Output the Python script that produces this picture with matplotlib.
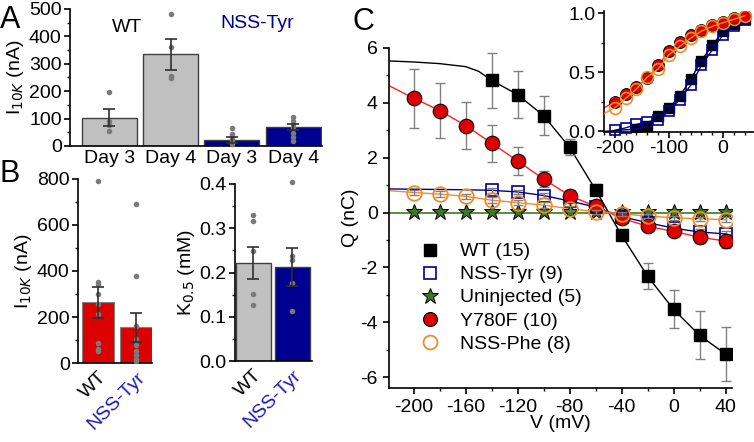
import matplotlib
matplotlib.use("Agg")
import matplotlib.pyplot as plt
from matplotlib.lines import Line2D
from matplotlib.ticker import MultipleLocator
import numpy as np

plt.rcParams['font.family'] = ['Liberation Sans', 'DejaVu Sans']
plt.rcParams['axes.unicode_minus'] = False
plt.rcParams['axes.linewidth'] = 1.2
plt.rcParams['xtick.major.width'] = 1.2
plt.rcParams['ytick.major.width'] = 1.2
plt.rcParams['xtick.minor.width'] = 1.0
plt.rcParams['ytick.minor.width'] = 1.0

FS = 14

# ---- panel A : I10K per day
a_labels = ["Day 3", "Day 4", "Day 3", "Day 4"]
a_means = [104, 335, 22, 68]
a_errs = [32, 56, 10, 11]
a_points = [[196, 90, 75, 55],
            [480, 362, 255, 247],
            [67, 43, 34, 24, 16, 7],
            [107, 92, 80, 68, 49, 32, 18]]

# ---- panel B left : I10K
b_labels = ["WT", "NSS-Tyr"]
b_means = [264, 155]
b_errs = [68, 62]
b_points = [[793, 352, 342, 300, 257, 214, 87, 61, 52],
            [691, 380, 162, 104, 80, 54, 36, 19, 10]]

# ---- panel B right : K0.5
k_means = [0.222, 0.213]
k_errs = [0.036, 0.043]
k_points = [[0.33, 0.317, 0.249, 0.152, 0.127],
            [0.405, 0.238, 0.228, 0.177, 0.114]]

# ---- panel C : Q-V
V_all = [-200, -180, -160, -140, -120, -100, -80, -60, -40, -20, 0, 20, 40]
V_wt = [-140, -120, -100, -80, -60, -40, -20, 0, 20, 40]
V_tyr = [-140, -120, -100, -80, -60, -40, -20, 0, 20, 40]

q_wt = [4.82, 4.3, 3.53, 2.38, 0.83, -0.83, -2.32, -3.53, -4.48, -5.16]
e_wt = [1.0, 0.87, 0.72, 0.3, 0.2, 0.1, 0.47, 0.69, 0.88, 1.0]
q_tyr = [0.81, 0.75, 0.62, 0.42, 0.2, -0.15, -0.37, -0.57, -0.71, -0.78]
e_tyr = [0.08, 0.08, 0.08, 0.08, 0.06, 0.06, 0.08, 0.08, 0.1, 0.1]
q_uninj = [0.03] * 13
q_y780 = [4.17, 3.72, 3.17, 2.53, 1.88, 1.22, 0.62, 0.22, -0.21, -0.5, -0.69, -0.9, -1.04]
e_y780 = [1.08, 1.0, 0.85, 0.68, 0.52, 0.3, 0.2, 0.12, 0.1, 0.12, 0.14, 0.2, 0.25]
q_phe = [0.73, 0.67, 0.59, 0.45, 0.36, 0.27, 0.14, 0.03, -0.05, -0.13, -0.19, -0.23, -0.26]
e_phe = [0.1, 0.1, 0.1, 0.1, 0.1, 0.1, 0.1, 0.08, 0.08, 0.08, 0.08, 0.08, 0.08]

# fit lines
fit_wt_v = [-220, -200, -180, -160, -150] + V_wt
fit_wt_q = [5.53, 5.49, 5.43, 5.32, 5.15] + q_wt
fit_y780_v = [-220] + V_all
fit_y780_q = [4.65] + q_y780
fit_tyr_v = [-220, -200, -180, -160] + V_tyr
fit_tyr_q = [0.86, 0.85, 0.84, 0.83] + q_tyr
fit_phe_v = [-220] + V_all
fit_phe_q = [0.8] + q_phe

# inset normalised
V_wt_n = [-160, -140, -120, -100, -80, -60, -40, -20, 0, 20, 40]
n_wt = [0.02, 0.05, 0.13, 0.2, 0.3, 0.44, 0.6, 0.73, 0.85, 0.91, 0.95]
n_tyr = [0.01, 0.03, 0.06, 0.08, 0.1, 0.17, 0.27, 0.39, 0.56, 0.69, 0.82, 0.89, 0.94]
n_y780 = [0.25, 0.32, 0.375, 0.45, 0.56, 0.68, 0.76, 0.82, 0.86, 0.9, 0.93, 0.96, 0.98]
n_phe = [0.2, 0.28, 0.36, 0.46, 0.53, 0.65, 0.72, 0.79, 0.85, 0.89, 0.92, 0.95, 0.98]

GRAY = '#c0c0c0'
NAVY = '#000090'
RED = '#dd0000'
BLUE_TXT = '#1c1cb4'
ORANGE = '#f08c28'
GREEN = '#3b7a23'
DOT = '#7a7a7a'

fig = plt.figure(figsize=(7.54, 4.42), dpi=100)


def style(ax):
    ax.spines['top'].set_visible(False)
    ax.spines['right'].set_visible(False)
    ax.tick_params(direction='out', labelsize=FS, length=4, pad=2)
    ax.tick_params(which='minor', direction='out', length=2.5)


def dots(ax, x, pts):
    ax.scatter([x] * len(pts), pts, s=16, color=DOT, zorder=4, linewidths=0, clip_on=False)


# ---------------- A
axA = fig.add_axes([70 / 754, 1 - 146 / 442, 252 / 754, 137 / 442])
style(axA)
colsA = [GRAY, GRAY, NAVY, NAVY]
xA = np.arange(4)
axA.bar(xA, a_means, width=0.9, color=colsA, edgecolor='#404040', linewidth=1)
for i in range(4):
    axA.errorbar(xA[i], a_means[i], yerr=a_errs[i], color='#303030', capsize=4,
                 lw=1.2, capthick=1.2, zorder=5)
    dots(axA, xA[i], a_points[i])
axA.set_xlim(-0.64, 3.47)
axA.set_ylim(0, 500)
axA.yaxis.set_major_locator(MultipleLocator(100))
axA.yaxis.set_minor_locator(MultipleLocator(50))
axA.set_xticks(xA)
axA.set_xticklabels(a_labels, fontsize=FS)
axA.tick_params(axis='x', length=0, pad=3)
axA.set_ylabel("I$_{10K}$ (nA)", fontsize=FS, labelpad=2)
fig.text(127 / 754, 1 - 27 / 442, "WT", fontsize=FS, ha='center', va='center')
fig.text(257 / 754, 1 - 24 / 442, "NSS-Tyr", fontsize=FS, ha='center', va='center', color=NAVY)

# ---------------- B left
axB = fig.add_axes([78 / 754, 1 - 363 / 442, 74 / 754, 184 / 442])
style(axB)
xB = np.arange(2)
axB.bar(xB, b_means, width=0.84, color=RED, edgecolor='#808080', linewidth=0.8)
for i in range(2):
    axB.errorbar(xB[i], b_means[i], yerr=b_errs[i], color='#303030', capsize=4,
                 lw=1.2, capthick=1.2, zorder=5)
    dots(axB, xB[i], b_points[i])
axB.set_xlim(-0.53, 1.42)
axB.set_ylim(0, 800)
axB.yaxis.set_major_locator(MultipleLocator(200))
axB.yaxis.set_minor_locator(MultipleLocator(100))
axB.set_xticks(xB)
axB.set_xticklabels(b_labels, rotation=45, ha='right', rotation_mode='anchor', fontsize=FS)
axB.get_xticklabels()[1].set_color(BLUE_TXT)
axB.tick_params(axis='x', length=0, pad=4)
axB.set_ylabel("I$_{10K}$ (nA)", fontsize=FS, labelpad=2)

# ---------------- B right
axK = fig.add_axes([235 / 754, 1 - 361 / 442, 77 / 754, 177 / 442])
style(axK)
axK.bar(xB, k_means, width=0.9, color=[GRAY, NAVY], edgecolor='#404040', linewidth=1)
for i in range(2):
    axK.errorbar(xB[i], k_means[i], yerr=k_errs[i], color='#303030', capsize=4,
                 lw=1.2, capthick=1.2, zorder=5)
    dots(axK, xB[i], k_points[i])
axK.set_xlim(-0.47, 1.5)
axK.set_ylim(0, 0.4)
axK.yaxis.set_major_locator(MultipleLocator(0.1))
axK.yaxis.set_minor_locator(MultipleLocator(0.05))
axK.set_xticks(xB)
axK.set_xticklabels(b_labels, rotation=45, ha='right', rotation_mode='anchor', fontsize=FS)
axK.get_xticklabels()[1].set_color(BLUE_TXT)
axK.tick_params(axis='x', length=0, pad=4)
axK.set_ylabel("K$_{0.5}$ (mM)", fontsize=FS, labelpad=2)

# ---------------- C main
axC = fig.add_axes([389 / 754, 1 - 388 / 442, 343 / 754, 340 / 442])
style(axC)
axC.tick_params(axis='both', pad=4)
ekw = dict(ecolor='#808080', elinewidth=1, capsize=3.5, capthick=1, linestyle='none')

axC.plot([-220, 40], [0, 0], color=GREEN, lw=1.2, zorder=2)
axC.plot(V_all, q_uninj, linestyle='none', marker='*', ms=12, mfc=GREEN, mec='black',
         mew=0.7, zorder=3)

axC.plot(fit_wt_v, fit_wt_q, color='black', lw=1, zorder=2)
axC.errorbar(V_wt, q_wt, yerr=e_wt, fmt='none', zorder=3, **ekw)
axC.plot(V_wt, q_wt, linestyle='none', marker='s', ms=9, color='black', zorder=4)

axC.plot(fit_tyr_v, fit_tyr_q, color=NAVY, lw=1, zorder=2)
axC.errorbar(V_tyr, q_tyr, yerr=e_tyr, fmt='none', zorder=3, **ekw)
axC.plot(V_tyr, q_tyr, linestyle='none', marker='s', ms=8.5, mfc='none', mec=NAVY,
         mew=1.2, zorder=4)

axC.plot(fit_y780_v, fit_y780_q, color='#ff2020', lw=1, zorder=2)
axC.errorbar(V_all, q_y780, yerr=e_y780, fmt='none', zorder=3, **ekw)
axC.plot(V_all, q_y780, linestyle='none', marker='o', ms=10.5, mfc=RED, mec='black',
         mew=0.8, zorder=5)

axC.plot(fit_phe_v, fit_phe_q, color=ORANGE, lw=1, zorder=2)
axC.errorbar(V_all, q_phe, yerr=e_phe, fmt='none', zorder=6, **ekw)
axC.plot(V_all, q_phe, linestyle='none', marker='o', ms=10.5, mfc='none', mec=ORANGE,
         mew=1.3, zorder=6)

axC.set_xlim(-219, 45)
axC.set_ylim(-6.4, 6)
axC.xaxis.set_major_locator(MultipleLocator(40))
axC.xaxis.set_minor_locator(MultipleLocator(20))
axC.yaxis.set_major_locator(MultipleLocator(2))
axC.yaxis.set_minor_locator(MultipleLocator(1))
axC.set_xlabel("V (mV)", fontsize=FS, labelpad=-1)
axC.set_ylabel("Q (nC)", fontsize=FS, labelpad=1)

handles = [
    Line2D([], [], linestyle='none', marker='s', ms=8, color='black'),
    Line2D([], [], linestyle='none', marker='s', ms=8, mfc='none', mec=NAVY, mew=1.2),
    Line2D([], [], linestyle='none', marker='*', ms=12, mfc=GREEN, mec='black', mew=0.7),
    Line2D([], [], linestyle='none', marker='o', ms=10, mfc=RED, mec='black', mew=0.8),
    Line2D([], [], linestyle='none', marker='o', ms=10, mfc='none', mec=ORANGE, mew=1.3),
]
names = ["WT (15)", "NSS-Tyr (9)", "Uninjected (5)", "Y780F (10)", "NSS-Phe (8)"]
axC.legend(handles, names, loc='upper left', bbox_to_anchor=(0.04, 0.45), frameon=False,
           fontsize=FS, handletextpad=0.55, labelspacing=0.28, borderaxespad=0)

# ---------------- C inset
axI = fig.add_axes([604 / 754, 1 - 132 / 442, 150 / 754, 121 / 442])
axI.patch.set_alpha(0)
style(axI)
axI.plot([-220] + V_wt_n, [0.0] + n_wt, color='black', lw=1, zorder=2)
axI.plot(V_wt_n, n_wt, linestyle='none', marker='s', ms=7, color='black', zorder=3)
axI.plot(V_all, n_tyr, color=NAVY, lw=1, marker='s', ms=7, mfc='none', mec=NAVY,
         mew=1.2, zorder=4, clip_on=False)
axI.plot([-220] + V_all, [0.2] + n_y780, color='#ff2020', lw=1, zorder=2)
axI.plot(V_all, n_y780, linestyle='none', marker='o', ms=8.5, mfc=RED, mec='black',
         mew=0.7, zorder=5)
axI.plot([-220] + V_all, [0.15] + n_phe, color=ORANGE, lw=1, marker='o', ms=8.5,
         mfc='none', mec=ORANGE, mew=1.2, zorder=6, markevery=list(range(1, 14)))
axI.set_xlim(-220, 57)
axI.set_ylim(-0.005, 1.02)
axI.xaxis.set_major_locator(MultipleLocator(100))
axI.xaxis.set_minor_locator(MultipleLocator(20))
axI.yaxis.set_major_locator(MultipleLocator(0.5))
axI.yaxis.set_minor_locator(MultipleLocator(0.25))

# panel letters
fig.text(0 / 754, 1 - 28 / 442, "A", fontsize=22)
fig.text(0 / 754, 1 - 182 / 442, "B", fontsize=22)
fig.text(352 / 754, 1 - 30 / 442, "C", fontsize=22)

fig.savefig("out.png", dpi=100)
